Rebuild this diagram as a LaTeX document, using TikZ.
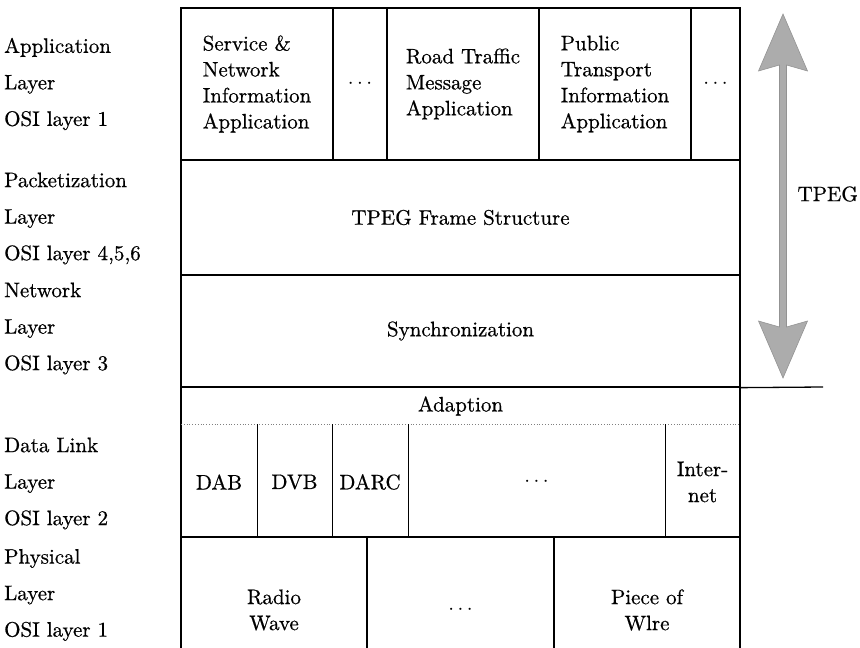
\documentclass[tikz,border=0pt]{standalone}
\usepackage{fontspec}
\setmainfont{lmroman10-regular.otf}[FakeBold=0.6]
\usetikzlibrary{calc}
\begin{document}
\begin{tikzpicture}[x=1pt,y=-1pt,
  frame/.style={draw=black, line width=1.3pt},
  cell/.style={frame, inner sep=0pt, align=center, font=\fontsize{21}{26}\selectfont},
  lcell/.style={cell, align=left},
  txt/.style={inner sep=0pt, align=center, font=\fontsize{21}{26}\selectfont},
  lbl/.style={anchor=west, inner sep=0pt, align=left, font=\fontsize{21}{36.5}\selectfont},
  arrowfill/.style={fill=gray!65, draw=gray!85, line width=0.6pt},
]
\useasboundingbox (0,0) rectangle (860,648);
\clip (0,0) rectangle (860,648);
\newcommand\cellbox[7][cell]{\node[#1, minimum width={#5-#3}, minimum height={#6-#4}] (#2) at ({(#3+#5)/2},{(#4+#6)/2}) {#7};}
% application row
\cellbox[lcell]{sna}{181}{8}{333}{160}{Service \&\\Network\\Information\\Application}
\cellbox{da}{333}{8}{387}{160}{$\cdots$}
\cellbox[lcell]{rtm}{387}{8}{539}{160}{Road Traffic\\Message\\Application}
\cellbox[lcell]{pti}{539}{8}{691}{160}{Public\\Transport\\Information\\Application}
\cellbox{db}{691}{8}{740}{160}{$\cdots$}
% frame and sync rows
\cellbox{tfs}{181}{160}{740}{275}{TPEG Frame Structure}
\cellbox{syn}{181}{275}{740}{387}{Synchronization}
% adaption + data link block
\node[frame, minimum width=559, minimum height=150] (dl) at (460.5,462) {};
\node[txt] (adp) at (460.5,406) {Adaption};
\coordinate (dotl) at (181,424);
\coordinate (dotr) at (740,424);
\draw[dotted, line width=0.8pt, gray] (dotl) -- (dotr);
\node[txt] (dab) at (219,482) {DAB};
\node[txt] (dvb) at (294.5,482) {DVB};
\node[txt] (darc) at (370,482) {DARC};
\node[txt] (dc) at (536.5,482) {$\cdots$};
\node[txt] (inet) at (702.5,482) {Inter-\\net};
\foreach \xx in {257,332,408,665}{\draw[line width=1pt] (\xx,424) -- (\xx,537);}
% physical row
\cellbox{rw}{181}{537}{367}{683}{Radio\\Wave}
\cellbox{pd}{367}{537}{554}{683}{$\cdots$}
\cellbox{pw}{554}{537}{740}{683}{Piece of\\Wlre}
% extension line
\coordinate (ext) at (823,387);
\draw[line width=1.3pt] (syn.south east) -- (ext);
% TPEG arrow
\coordinate (ttop) at (783,14);
\coordinate (tbot) at (783,378);
\filldraw[arrowfill] (ttop) -- ++(24.5,57) -- ($(ttop)+(3.5,51)$) -- ($(tbot)+(3.5,-51)$) -- ($(tbot)+(24.5,-57)$) -- (tbot)
  -- ++(-24.5,-57) -- ($(tbot)+(-3.5,-51)$) -- ($(ttop)+(-3.5,51)$) -- ($(ttop)+(-24.5,57)$) -- cycle;
\node[txt, anchor=east] (tpeg) at (858,194) {TPEG};
% left labels
\node[lbl] (lapp) at (4,84) {Application\\Layer\\OSI layer 1};
\node[lbl] (lpack) at (4,218.5) {Packetization\\Layer\\OSI layer 4,5,6};
\node[lbl] (lnet) at (4,328.5) {Network\\Layer\\OSI layer 3};
\node[lbl] (ldl) at (4,483.5) {Data Link\\Layer\\OSI layer 2};
\node[lbl] (lphy) at (4,595) {Physical\\Layer\\OSI layer 1};
\end{tikzpicture}
\end{document}
